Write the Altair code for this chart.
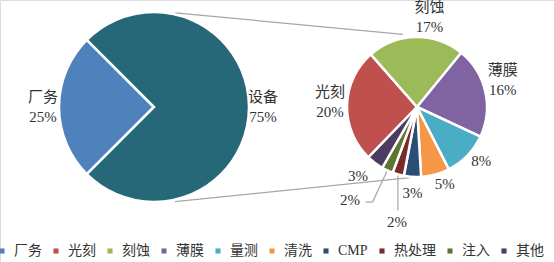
import math
import json
import altair as alt
import pandas as pd

# ---------------- data ----------------
left_cats = ["厂务", "设备"]
left_vals = [25, 75]
right_cats = ["光刻", "刻蚀", "薄膜", "量测", "清洗", "CMP", "热处理", "注入", "其他"]
right_vals = [20, 17, 16, 8, 5, 3, 2, 2, 3]
legend_cats = ["厂务", "光刻", "刻蚀", "薄膜", "量测", "清洗", "CMP", "热处理", "注入", "其他"]
palette = ["#4F81BD", "#C0504D", "#9BBB59", "#8064A2", "#4BACC6", "#F79646",
           "#2C4D75", "#772C2A", "#5F7530", "#4D3B62", "#276878"]

# ---------------- layout / style ----------------
W, H = 554, 262
LCX, LCY, LR = 154, 107, 95
RCX, RCY, RR = 417, 107, 70
L_START = 225.0
R_START = 224.0
FONT = "Liberation Serif, Noto Sans CJK SC"
TXT = "#333333"
LINE = "#A6A6A6"
TWO_DY = -10  # centre a two-line label on its anchor


def make_df(cats, vals):
    df = pd.DataFrame({"cat": cats, "val": vals, "idx": list(range(len(cats)))})
    df["pct"] = [f"{v}%" for v in vals]
    df["two"] = df["cat"] + "\n" + df["pct"]
    return df


left_df = make_df(left_cats, left_vals)
right_df = make_df(right_cats, right_vals)

domain = legend_cats + ["设备"]
color_scale = alt.Scale(domain=domain, range=palette)
legend = alt.Legend(
    values=legend_cats, orient="none", legendX=-5, legendY=244, direction="horizontal",
    title=None, symbolType="square", symbolSize=26, symbolStrokeWidth=0,
    labelFont=FONT, labelFontSize=14, labelColor=TXT, labelOffset=5,
    columnPadding=7, padding=0, gridAlign="none",
)


def theta_enc(start_deg):
    a = math.radians(start_deg)
    return alt.Theta("val:Q", stack=True, scale=alt.Scale(range=[a, a + 2 * math.pi]))


def pie(df, cx, cy, r, start):
    return alt.Chart(df).mark_arc(radius=r, stroke="white", strokeWidth=2.5).encode(
        theta=theta_enc(start),
        color=alt.Color("cat:N", scale=color_scale, legend=legend),
        order=alt.Order("idx:Q"),
        x=alt.value(cx), y=alt.value(cy),
    )


def label(df, cx, cy, start, cat, field, r, shift=0.0, dx=0, dy=0):
    if field == "two":
        dy += TWO_DY
    expr = f"datum.cat === {json.dumps(cat, ensure_ascii=False)} ? datum.{field} : ''"
    return alt.Chart(df).transform_calculate(t=expr).mark_text(
        radius=r, dx=dx, dy=dy, font=FONT, fontSize=15, color=TXT,
        lineBreak="\n", lineHeight=20, align="center", baseline="middle",
    ).encode(
        theta=theta_enc(start + shift),
        text="t:N",
        order=alt.Order("idx:Q"),
        x=alt.value(cx), y=alt.value(cy),
    )


def mid_angle(cats, vals, start, cat):
    tot = sum(vals)
    cum = 0
    for c, v in zip(cats, vals):
        if c == cat:
            return start + (cum + v / 2) / tot * 360
        cum += v
    return start


def polar(cx, cy, r, deg):
    a = math.radians(deg)
    return cx + r * math.sin(a), cy - r * math.cos(a)


one = pd.DataFrame({"a": [0]})


def seg(p, q):
    return alt.Chart(one).mark_rule(color=LINE, strokeWidth=1.2).encode(
        x=alt.value(p[0]), y=alt.value(p[1]), x2=alt.value(q[0]), y2=alt.value(q[1])
    )


layers = []
# connector lines between pies
layers.append(seg(polar(LCX, LCY, 96.5, 12.6), polar(RCX, RCY, 74, 349)))
layers.append(seg(polar(LCX, LCY, 97, 167.5), polar(RCX, RCY, 71, 185.6)))

# leader lines for small slices
m_zr = mid_angle(right_cats, right_vals, R_START, "注入")
p0 = polar(RCX, RCY, RR + 1, m_zr)
p1 = polar(RCX, RCY, 105, m_zr)
layers.append(seg(p0, p1))
layers.append(seg(p1, (p1[0] - 7, p1[1])))
m_rcl = mid_angle(right_cats, right_vals, R_START, "热处理")
q0 = polar(RCX, RCY, RR + 1, m_rcl)
layers.append(seg(q0, (q0[0], q0[1] + 35)))

layers.append(pie(left_df, LCX, LCY, LR, L_START))
layers.append(pie(right_df, RCX, RCY, RR, R_START))

# left labels
layers.append(label(left_df, LCX, LCY, L_START, "厂务", "two", 111))
layers.append(label(left_df, LCX, LCY, L_START, "设备", "two", 109))

# right labels
layers.append(label(right_df, RCX, RCY, R_START, "光刻", "two", 88, dx=1, dy=-3))
layers.append(label(right_df, RCX, RCY, R_START, "刻蚀", "two", 90, dx=14))
layers.append(label(right_df, RCX, RCY, R_START, "薄膜", "two", 90, dx=-2, dy=-7))
layers.append(label(right_df, RCX, RCY, R_START, "量测", "pct", 84, shift=-4))
layers.append(label(right_df, RCX, RCY, R_START, "清洗", "pct", 82, shift=-4.5))
layers.append(label(right_df, RCX, RCY, R_START, "CMP", "pct", 86, shift=-0.7))
layers.append(label(right_df, RCX, RCY, R_START, "热处理", "pct", 116.7, shift=-5.7))
layers.append(label(right_df, RCX, RCY, R_START, "注入", "pct", 114.6, shift=10.8))
layers.append(label(right_df, RCX, RCY, R_START, "其他", "pct", 91, shift=3.6))

chart = alt.layer(*layers).resolve_scale(theta="independent").properties(
    width=W, height=H, autosize="none", padding=0
).configure_view(stroke=None).configure(background="white")

chart.save("out.html", embed_options={"renderer": "svg", "actions": False})
